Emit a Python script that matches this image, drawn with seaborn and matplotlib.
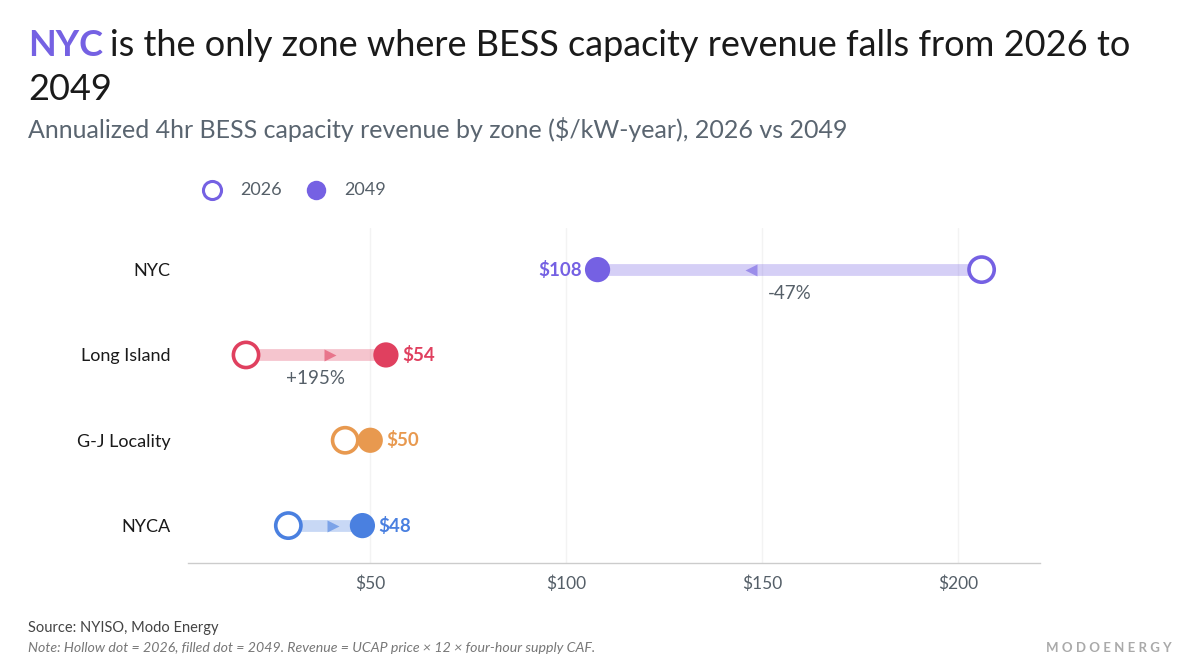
import matplotlib
matplotlib.use("Agg")
import matplotlib.pyplot as plt
import seaborn as sns
import pandas as pd

# ===== data =====
zones = ["NYC", "Long Island", "G-J Locality", "NYCA"]
rev_2026 = [206.0, 18.3, 43.6, 29.1]
rev_2049 = [108.0, 54.0, 50.0, 48.0]
value_labels = ["$108", "$54", "$50", "$48"]
pct_labels = ["-47%", "+195%", "", ""]
zone_colors = ["#7561E3", "#E0405F", "#E8994F", "#4A80E0"]
x_ticks = [50, 100, 150, 200]
x_ticklabels = ["$50", "$100", "$150", "$200"]

df = pd.DataFrame({"zone": zones, "y": range(len(zones)),
                   "y2026": rev_2026, "y2049": rev_2049})
palette = dict(zip(zones, zone_colors))

sns.set_theme(style="white")
FONT = "Lato"
plt.rcParams["font.family"] = [FONT, "DejaVu Sans"]

fig = plt.figure(figsize=(12, 6.72), dpi=100)
ax = fig.add_axes([0.157, 0.162, 0.71, 0.499])

# connecting bars + direction arrows
for i, r in df.iterrows():
    c = palette[r.zone]
    ax.plot([r.y2026, r.y2049], [r.y, r.y], color=c, alpha=0.3, lw=8.5,
            solid_capstyle="butt", zorder=1)
    if abs(r.y2049 - r.y2026) > 10:
        xa = r.y2026 + 0.6 * (r.y2049 - r.y2026)
        m = ">" if r.y2049 > r.y2026 else "<"
        ax.plot(xa, r.y, marker=m, ms=9, color=c, alpha=0.6, mec="none", zorder=2)

# 2026 hollow dots
sns.scatterplot(data=df, x="y2026", y="y", hue="zone", palette=palette,
                s=330, legend=False, ax=ax, zorder=3)
coll = ax.collections[-1]
coll.set_edgecolors(coll.get_facecolors())
coll.set_facecolors("white")
coll.set_linewidths(2.6)

# 2049 filled dots
sns.scatterplot(data=df, x="y2049", y="y", hue="zone", palette=palette,
                s=330, linewidth=0, legend=False, ax=ax, zorder=4)

# value + pct labels
for i, r in df.iterrows():
    c = palette[r.zone]
    if r.y2049 < r.y2026:
        ax.annotate(value_labels[i], (r.y2049, r.y), xytext=(-11.5, 0),
                    textcoords="offset points", ha="right", va="center",
                    color=c, fontsize=13.5, fontweight="bold")
    else:
        ax.annotate(value_labels[i], (r.y2049, r.y), xytext=(11.5, 0),
                    textcoords="offset points", ha="left", va="center",
                    color=c, fontsize=13.5, fontweight="bold")
    if pct_labels[i]:
        ax.annotate(pct_labels[i], ((r.y2026 + r.y2049) / 2, r.y), xytext=(0, -17),
                    textcoords="offset points", ha="center", va="center",
                    color="#555f68", fontsize=13.5)

ax.set_xlim(3.6, 221)
ax.set_ylim(3.44, -0.49)
ax.set_xticks(x_ticks)
ax.set_xticklabels(x_ticklabels, color="#555f68", fontsize=12.5)
ax.set_yticks(range(len(zones)))
ax.set_yticklabels(zones, color="#1a1a1a", fontsize=13)
ax.tick_params(axis="y", length=0, pad=13)
ax.tick_params(axis="x", length=0, pad=9)
ax.set_xlabel("")
ax.set_ylabel("")
ax.grid(axis="x", color="#f3f3f3", lw=1)
for s in ["top", "right", "left"]:
    ax.spines[s].set_visible(False)
ax.spines["bottom"].set_color("#cccccc")
ax.spines["bottom"].set_linewidth(1)

# legend
lc = zone_colors[0]
fig.add_artist(plt.Line2D([212 / 1200], [1 - 190 / 672], marker="o", ms=13,
                          mfc="white", mec=lc, mew=2.2, transform=fig.transFigure))
fig.text(240 / 1200, 1 - 190 / 672, "2026", fontsize=13, color="#555f68", va="center")
fig.add_artist(plt.Line2D([316 / 1200], [1 - 190 / 672], marker="o", ms=14,
                          mfc=lc, mec=lc, mew=0, transform=fig.transFigure))
fig.text(344 / 1200, 1 - 190 / 672, "2049", fontsize=13, color="#555f68", va="center")

# title
TS = 26
t1 = fig.text(28 / 1200, 1 - 45 / 672, "NYC", fontsize=TS, fontweight="bold",
              color=lc, va="center")
fig.canvas.draw()
bb = t1.get_window_extent()
fig.text(bb.x1 / 1200 + 0.006, 1 - 45 / 672,
         "is the only zone where BESS capacity revenue falls from 2026 to",
         fontsize=TS, color="#1a1a1a", va="center")
fig.text(28 / 1200, 1 - 89 / 672, "2049", fontsize=TS, color="#1a1a1a", va="center")
fig.text(28 / 1200, 1 - 130 / 672,
         "Annualized 4hr BESS capacity revenue by zone ($/kW-year), 2026 vs 2049",
         fontsize=18, color="#5a6570", va="center")

# footer
fig.text(28 / 1200, 1 - 628 / 672, "Source: NYISO, Modo Energy", fontsize=10.5,
         color="#444444", va="center")
fig.text(28 / 1200, 1 - 648 / 672,
         "Note: Hollow dot = 2026, filled dot = 2049. Revenue = UCAP price \u00d7 12 \u00d7 four-hour supply CAF.",
         fontsize=10.2, color="#777777", style="italic", va="center")
fig.text(1172 / 1200, 1 - 648 / 672, "M O D O E N E R G Y", fontsize=9.5,
         color="#aaaaaa", fontweight="bold", ha="right", va="center")

fig.savefig("out.png", dpi=100)
